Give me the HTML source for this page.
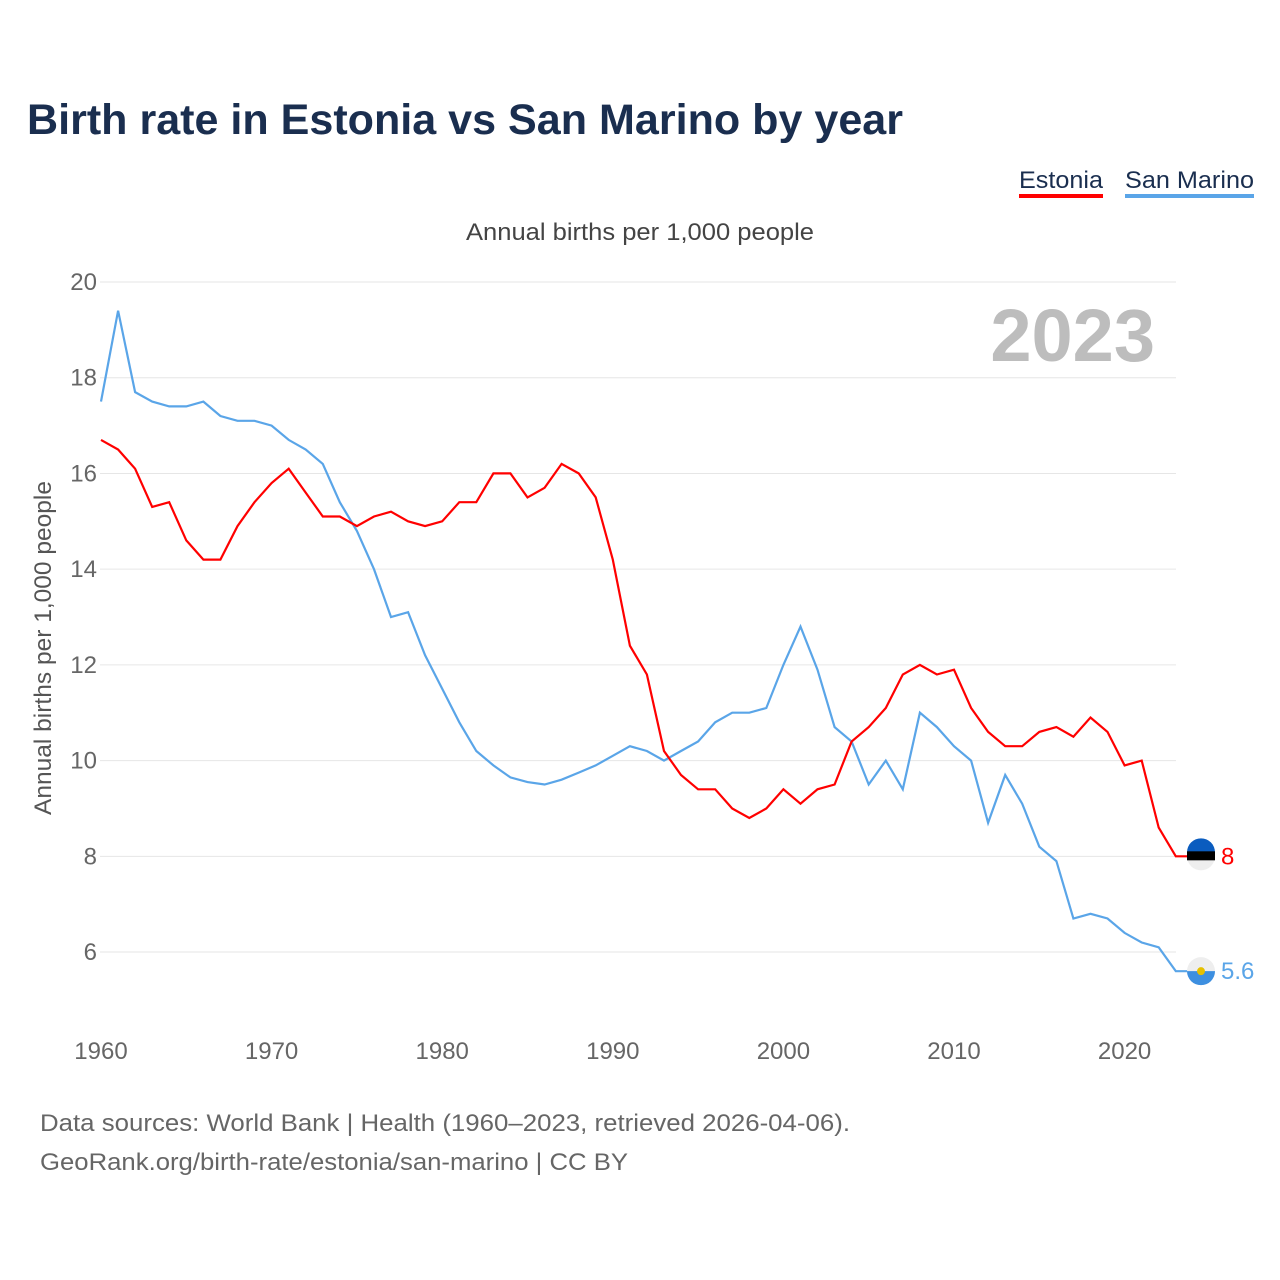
<!DOCTYPE html>
<html><head><meta charset="utf-8">
<style>
body{margin:0;background:#fff;font-family:"Liberation Sans",sans-serif;}
#wrap{position:relative;width:1280px;height:1280px;overflow:hidden;}
</style></head>
<body>
<div id="wrap">
<svg id="svg" width="1280" height="1280" xmlns="http://www.w3.org/2000/svg">
<text x="27" y="134" font-size="43" font-weight="bold" fill="#1a2e4f" textLength="876" lengthAdjust="spacingAndGlyphs">Birth rate in Estonia vs San Marino by year</text>
<g>
<text x="1019" y="188" font-size="24" fill="#1a2e4f" textLength="84" lengthAdjust="spacingAndGlyphs">Estonia</text>
<rect x="1019" y="194" width="84" height="4" fill="#f00"/></g>
<g>
<text x="1125" y="188" font-size="24" fill="#1a2e4f" textLength="129" lengthAdjust="spacingAndGlyphs">San Marino</text>
<rect x="1125" y="194" width="129" height="4" fill="#5aa5e8"/></g>
<text x="466" y="240" font-size="24" fill="#444" textLength="348" lengthAdjust="spacingAndGlyphs">Annual births per 1,000 people</text>
<text x="1155" y="361" font-size="74" font-weight="bold" fill="#bdbdbd" text-anchor="end">2023</text>
<text transform="translate(51,648) rotate(-90)" font-size="24" fill="#555" text-anchor="middle" textLength="334" lengthAdjust="spacingAndGlyphs">Annual births per 1,000 people</text>
<g id="grid"></g><g id="xt"></g><g id="lines"></g>
<text x="40" y="1131" font-size="24" fill="#666" textLength="810" lengthAdjust="spacingAndGlyphs">Data sources: World Bank | Health (1960–2023, retrieved 2026-04-06).</text>
<text x="40" y="1170" font-size="24" fill="#666" textLength="588" lengthAdjust="spacingAndGlyphs">GeoRank.org/birth-rate/estonia/san-marino | CC BY</text>
</svg></div>
<script>
const years=[];for(let y=1960;y<=2023;y++)years.push(y);
const estonia=[16.7,16.5,16.1,15.3,15.4,14.6,14.2,14.2,14.9,15.4,15.8,16.1,15.6,15.1,15.1,14.9,15.1,15.2,15.0,14.9,15.0,15.4,15.4,16.0,16.0,15.5,15.7,16.2,16.0,15.5,14.2,12.4,11.8,10.2,9.7,9.4,9.4,9.0,8.8,9.0,9.4,9.1,9.4,9.5,10.4,10.7,11.1,11.8,12.0,11.8,11.9,11.1,10.6,10.3,10.3,10.6,10.7,10.5,10.9,10.6,9.9,10.0,8.6,8.0];
const sanMarino=[17.5,19.4,17.7,17.5,17.4,17.4,17.5,17.2,17.1,17.1,17.0,16.7,16.5,16.2,15.4,14.8,14.0,13.0,13.1,12.2,11.5,10.8,10.2,9.9,9.65,9.55,9.5,9.6,9.75,9.9,10.1,10.3,10.2,10.0,10.2,10.4,10.8,11.0,11.0,11.1,12.0,12.8,11.9,10.7,10.4,9.5,10.0,9.4,11.0,10.7,10.3,10.0,8.7,9.7,9.1,8.2,7.9,6.7,6.8,6.7,6.4,6.2,6.1,5.6];
const yTicks=[6,8,10,12,14,16,18,20];
const xTicks=[1960,1970,1980,1990,2000,2010,2020];
const NS='http://www.w3.org/2000/svg';
const X=y=>101+(y-1960)*17.06, Y=v=>282+(20-v)*47.86;
function mk(t,a,p){const e=document.createElementNS(NS,t);for(const k in a)e.setAttribute(k,a[k]);p.appendChild(e);return e;}
const g=document.getElementById('grid');
yTicks.forEach(v=>{const l=mk('line',{x1:100,x2:1176,y1:Y(v),y2:Y(v),stroke:'#e6e6e6'},g);


const t=mk('text',{x:97,y:Y(v)+8,'font-size':24,fill:'#666','text-anchor':'end'},g);t.textContent=v;

});
const xt=document.getElementById('xt');
xTicks.forEach(v=>{const t=mk('text',{x:X(v),y:1059,'font-size':24,fill:'#666','text-anchor':'middle'},xt);t.textContent=v;

});
const L=document.getElementById('lines');
function series(data,color,name,label,flag){
 let d=data.map((v,i)=>(i?'L':'M')+X(years[i]).toFixed(1)+' '+Y(v).toFixed(1)).join(' ');
 const last=data[data.length-1];
 d+=' L'+(X(2023)+14)+' '+Y(last);
 const p=mk('path',{d:d,fill:'none',stroke:color,'stroke-width':2.2},L);
 
 
 const cx=1201,cy=Y(last);
 const c=mk('g',{},L);
 
 
 if(flag==='ee'){
  mk('circle',{cx:cx,cy:cy,r:14,fill:'#eee'},c);
  mk('path',{d:`M${cx-14} ${cy-4} A14 14 0 0 1 ${cx+14} ${cy-4} Z`,fill:'#0a5cbf'},c);
  mk('rect',{x:cx-14,y:cy-5,width:28,height:9,fill:'#000'},c);
 }else{
  mk('circle',{cx:cx,cy:cy,r:14,fill:'#eee'},c);
  mk('path',{d:`M${cx-14} ${cy} A14 14 0 0 0 ${cx+14} ${cy} Z`,fill:'#3d8fe0'},c);
  mk('circle',{cx:cx,cy:cy,r:4,fill:'#e5c000'},c);
 }
 const t=mk('text',{x:1221,y:cy+8,'font-size':24,fill:color},L);t.textContent=label;
 
 
}
series(sanMarino,'#5aa5e8','san-marino','5.6','sm');
series(estonia,'#f00','estonia','8','ee');
</script>
</body></html>
